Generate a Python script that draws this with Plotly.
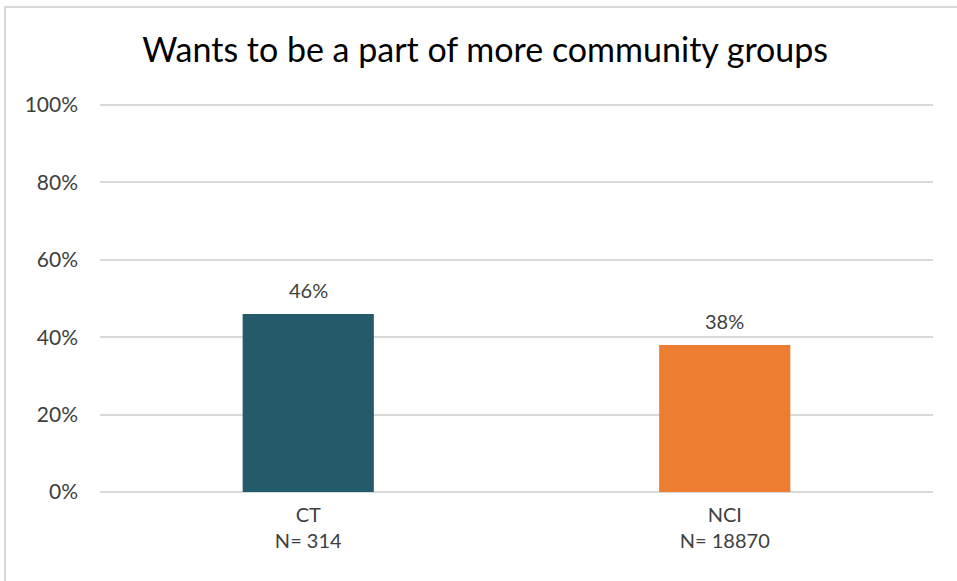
import plotly.graph_objects as go

categories = ["CT<br>N= 314", "NCI<br>N= 18870"]
values = [0.46, 0.38]
colors = ["#245B6B", "#ED7D31"]
title_text = "Wants to be a part of more community groups"
tick_vals = [0, 0.2, 0.4, 0.6, 0.8, 1.0]

W, H = 957, 581
L, R, T, B = 100, 24, 103, 89
YMAX = 1.005
FONT = "Lato, Open Sans, sans-serif"

fig = go.Figure()
fig.add_trace(go.Bar(
    x=categories, y=values, marker=dict(color=colors, line=dict(width=0)),
    width=0.315, hoverinfo="skip", showlegend=False,
))

for c, v in zip(categories, values):
    fig.add_annotation(x=c, y=v, text=f"{round(v*100)}%", showarrow=False,
                       yanchor="bottom", yshift=10,
                       font=dict(family=FONT, size=20, color="#404040"))

pw, ph = W - L - R, H - T - B
# outer chart border (top and left only visible)
fig.add_shape(type="line", xref="paper", yref="paper", layer="above",
              x0=(4 - L) / pw, x1=(W - L) / pw, y0=(H - B - 7) / ph, y1=(H - B - 7) / ph,
              line=dict(color="#D9D9D9", width=2))
fig.add_shape(type="line", xref="paper", yref="paper", layer="above",
              x0=(5 - L) / pw, x1=(5 - L) / pw, y0=(H - B - 6) / ph, y1=(H - B - H) / ph,
              line=dict(color="#D9D9D9", width=2))

fig.update_layout(
    width=W, height=H,
    margin=dict(l=L, r=R, t=T, b=B),
    paper_bgcolor="white", plot_bgcolor="white",
    title=dict(text=title_text, x=0.507, xanchor="center", y=1 - 50 / H, yanchor="middle",
               font=dict(family=FONT, size=34, color="#000000")),
    font=dict(family=FONT, size=20, color="#404040"),
)
fig.update_yaxes(range=[0, YMAX], tickvals=tick_vals, tickformat=".0%",
                 showgrid=True, gridcolor="#D9D9D9", gridwidth=1.5,
                 zeroline=True, zerolinecolor="#D9D9D9", zerolinewidth=1.5,
                 showline=False, ticks="", ticklabelstandoff=21,
                 tickfont=dict(family=FONT, size=21, color="#404040"), fixedrange=True)
fig.update_xaxes(showline=False, ticks="", tickfont=dict(family=FONT, size=20, color="#404040"),
                 ticklabelstandoff=9, fixedrange=True)

fig.write_html("out.html", config={"displayModeBar": False},
               post_script="document.body.style.margin='0';document.body.style.overflow='hidden';")
